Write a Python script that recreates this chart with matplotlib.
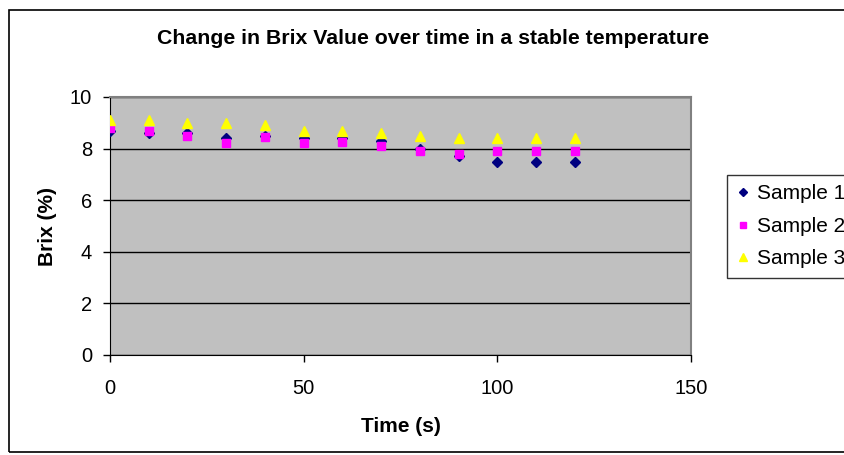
import matplotlib.pyplot as plt
from matplotlib.patches import Rectangle

plt.rcParams['font.family'] = ['Liberation Sans', 'DejaVu Sans']

# tempo (s) e valores de Brix (%) das tres amostras
tempo = [0, 10, 20, 30, 40, 50, 60, 70, 80, 90, 100, 110, 120]
amostra1 = [8.7, 8.6, 8.6, 8.4, 8.5, 8.4, 8.4, 8.3, 8.0, 7.7, 7.5, 7.5, 7.5]
amostra2 = [8.8, 8.7, 8.5, 8.2, 8.45, 8.2, 8.25, 8.1, 7.9, 7.8, 7.9, 7.9, 7.9]
amostra3 = [9.1, 9.1, 9.0, 9.0, 8.9, 8.7, 8.7, 8.6, 8.5, 8.4, 8.4, 8.4, 8.4]
nomes = ["Sample 1", "Sample 2", "Sample 3"]

fig = plt.figure(figsize=(8.44, 4.55), dpi=100)
# moldura do grafico (como no Excel)
fig.patches.append(Rectangle((9/844, 3/455), 1.0, 1 - 13/455, transform=fig.transFigure,
                             fill=False, edgecolor='black', linewidth=1.2))

ax = fig.add_axes([110/844, 1 - 355/455, 581/844, 258/455])
ax.set_facecolor('#C0C0C0')
ax.plot(tempo, amostra1, 'D', color='#000080', markersize=5, label=nomes[0], zorder=3)
ax.plot(tempo, amostra2, 's', color='#FF00FF', markersize=6, label=nomes[1], zorder=4)
ax.plot(tempo, amostra3, '^', color='#FFFF00', markersize=7, label=nomes[2], zorder=5)

ax.set_xlim(0, 150)
ax.set_ylim(0, 10)
ax.set_xticks([0, 50, 100, 150])
ax.set_yticks([0, 2, 4, 6, 8, 10])
ax.yaxis.grid(True, color='black', linewidth=1)
ax.set_axisbelow(True)
ax.tick_params(axis='both', direction='out', length=5, width=1, labelsize=14.5)
ax.tick_params(axis='y', pad=8)
ax.tick_params(axis='x', pad=12)
ax.spines['top'].set_color('#808080')
ax.spines['right'].set_color('#808080')
ax.spines['top'].set_linewidth(1.5)
ax.spines['right'].set_linewidth(1.5)

ax.set_xlabel("Time (s)", fontsize=15, fontweight='bold', labelpad=14)
ax.set_ylabel("Brix (%)", fontsize=15, fontweight='bold', labelpad=9)
fig.text(433/844, 1 - 39/455, "Change in Brix Value over time in a stable temperature",
         ha='center', va='center', fontsize=15.3, fontweight='bold')

# legenda cortada na borda direita, como na figura original
leg = fig.legend(loc='upper left', bbox_to_anchor=(727/844, 1 - 175/455), fontsize=15,
                 frameon=True, fancybox=False, edgecolor='black', handlelength=0.6,
                 handletextpad=0.4, borderpad=0.45, labelspacing=0.65, markerscale=0.8,
                 borderaxespad=0)
leg.get_frame().set_linewidth(1)

plt.savefig("out.png")
plt.close()
